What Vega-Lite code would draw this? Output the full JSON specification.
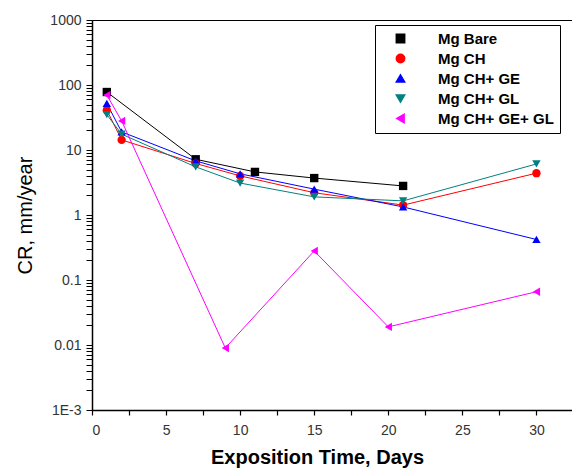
{
  "$schema": "https://vega.github.io/schema/vega-lite/v6.json",
  "width": 480,
  "height": 390,
  "autosize": "none",
  "padding": {"left": 92, "top": 20, "right": 0, "bottom": 58},
  "background": "white",
  "config": {
    "font": "Liberation Sans",
    "view": {"stroke": "#000", "strokeWidth": 1},
    "axis": {"ticks": true, "tickColor": "#000", "tickOpacity": 1}
  },
  "data": {
    "values": [
      {"series": "Mg Bare", "day": 1, "cr": 78},
      {"series": "Mg Bare", "day": 7, "cr": 7.2},
      {"series": "Mg Bare", "day": 11, "cr": 4.6},
      {"series": "Mg Bare", "day": 15, "cr": 3.7},
      {"series": "Mg Bare", "day": 21, "cr": 2.8},
      {"series": "Mg CH", "day": 1, "cr": 41},
      {"series": "Mg CH", "day": 2, "cr": 14.3},
      {"series": "Mg CH", "day": 7, "cr": 6.2},
      {"series": "Mg CH", "day": 10, "cr": 4.0},
      {"series": "Mg CH", "day": 15, "cr": 2.2},
      {"series": "Mg CH", "day": 21, "cr": 1.42},
      {"series": "Mg CH", "day": 30, "cr": 4.4},
      {"series": "Mg CH+ GE", "day": 1, "cr": 52},
      {"series": "Mg CH+ GE", "day": 2, "cr": 19},
      {"series": "Mg CH+ GE", "day": 7, "cr": 6.8},
      {"series": "Mg CH+ GE", "day": 10, "cr": 4.3},
      {"series": "Mg CH+ GE", "day": 15, "cr": 2.5},
      {"series": "Mg CH+ GE", "day": 21, "cr": 1.33},
      {"series": "Mg CH+ GE", "day": 30, "cr": 0.42},
      {"series": "Mg CH+ GL", "day": 1, "cr": 35},
      {"series": "Mg CH+ GL", "day": 2, "cr": 17.5},
      {"series": "Mg CH+ GL", "day": 7, "cr": 5.5},
      {"series": "Mg CH+ GL", "day": 10, "cr": 3.1},
      {"series": "Mg CH+ GL", "day": 15, "cr": 1.9},
      {"series": "Mg CH+ GL", "day": 21, "cr": 1.65},
      {"series": "Mg CH+ GL", "day": 30, "cr": 6.1},
      {"series": "Mg CH+ GE+ GL", "day": 1, "cr": 70},
      {"series": "Mg CH+ GE+ GL", "day": 2, "cr": 28},
      {"series": "Mg CH+ GE+ GL", "day": 9, "cr": 0.009},
      {"series": "Mg CH+ GE+ GL", "day": 15, "cr": 0.28},
      {"series": "Mg CH+ GE+ GL", "day": 20, "cr": 0.019},
      {"series": "Mg CH+ GE+ GL", "day": 30, "cr": 0.066}
    ]
  },
  "encoding": {
    "x": {
      "field": "day",
      "type": "quantitative",
      "scale": {"domain": [0, 32.4], "nice": false, "zero": false},
      "axis": {
        "title": "Exposition Time, Days",
        "titleFontSize": 20,
        "titleFontWeight": "bold",
        "titleColor": "#000",
        "titleX": 225,
        "titlePadding": 10,
        "values": [0, 2.5, 5, 7.5, 10, 12.5, 15, 17.5, 20, 22.5, 25, 27.5, 30],
        "labelExpr": "datum.value % 5 == 0 ? datum.value + '' : ''",
        "labelFontSize": 14,
        "labelColor": "#333",
        "labelPadding": 8,
        "grid": false,
        "ticks": true,
        "domainColor": "#000",
        "domainWidth": 1.5,
        "tickColor": "#000",
        "tickWidth": 1.2,
        "tickSize": 5
      }
    },
    "y": {
      "field": "cr",
      "type": "quantitative",
      "scale": {"type": "log", "domain": [0.001, 1000], "nice": false},
      "axis": {
        "title": "CR, mm/year",
        "titleFontSize": 20,
        "titleFontWeight": "normal",
        "titleColor": "#000",
        "titlePadding": 14,
        "values": [0.001, 0.002, 0.003, 0.004, 0.005, 0.006, 0.007, 0.008, 0.009, 0.01, 0.02, 0.03, 0.04, 0.05, 0.06, 0.07, 0.08, 0.09, 0.1, 0.2, 0.3, 0.4, 0.5, 0.6, 0.7, 0.8, 0.9, 1, 2, 3, 4, 5, 6, 7, 8, 9, 10, 20, 30, 40, 50, 60, 70, 80, 90, 100, 200, 300, 400, 500, 600, 700, 800, 900, 1000],
        "labelExpr": "indexof([1000,100,10,1,0.1,0.01], datum.value) >= 0 ? datum.value + '' : (datum.value == 0.001 ? '1E-3' : '')",
        "labelFontSize": 14,
        "labelColor": "#333",
        "labelPadding": 5,
        "grid": false,
        "ticks": true,
        "domainColor": "#000",
        "domainWidth": 1.5,
        "tickColor": "#000",
        "tickWidth": 1,
        "tickSize": 6
      }
    }
  },
  "layer": [
    {
      "mark": {"type": "line", "strokeWidth": 1},
      "encoding": {
        "color": {
          "field": "series",
          "type": "nominal",
          "scale": {
            "domain": ["Mg Bare", "Mg CH", "Mg CH+ GE", "Mg CH+ GL", "Mg CH+ GE+ GL"],
            "range": ["#000000", "#ff0000", "#0000ff", "#008080", "#ff00ff"]
          }
        }
      }
    },
    {
      "mark": {"type": "point", "filled": true, "opacity": 1},
      "encoding": {
        "shape": {
          "field": "series",
          "type": "nominal",
          "legend": null,
          "scale": {
            "domain": ["Mg Bare", "Mg CH", "Mg CH+ GE", "Mg CH+ GL", "Mg CH+ GE+ GL"],
            "range": ["square", "circle", "triangle-up", "triangle-down", "triangle-left"]
          }
        },
        "size": {
          "field": "series",
          "type": "nominal",
          "legend": null,
          "scale": {
            "domain": ["Mg Bare", "Mg CH", "Mg CH+ GE", "Mg CH+ GL", "Mg CH+ GE+ GL"],
            "range": [70, 70, 130, 130, 130]
          }
        },
        "color": {
          "field": "series",
          "type": "nominal",
          "legend": {
            "title": null,
            "orient": "none",
            "legendX": 283,
            "legendY": 5,
            "padding": 6,
            "strokeColor": "#000",
            "fillColor": "#fff",
            "labelFontSize": 15,
            "labelFontWeight": "bold",
            "labelColor": "#000",
            "labelOffset": 30,
            "rowPadding": 4,
            "symbolOffset": 12
          }
        }
      }
    }
  ]
}
